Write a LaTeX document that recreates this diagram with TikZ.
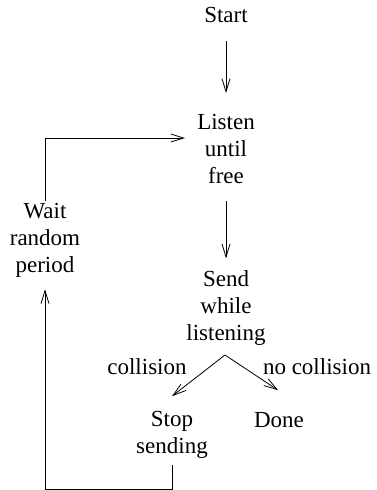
\documentclass[tikz,border=0pt]{standalone}
\usepackage{fontspec}
\setmainfont{Liberation Serif}
\usetikzlibrary{arrows.meta}
\begin{document}
\begin{tikzpicture}[x=1pt,y=-1pt,
  lbl/.style={align=center,font=\fontsize{23}{27}\selectfont,inner sep=0pt},
  arr/.style={line width=0.8pt,-{Straight Barb[length=13pt,width=8pt,line width=0.8pt]}},
  ln/.style={line width=0.8pt}]
\useasboundingbox (0,0) rectangle (376,490);
\node[lbl] (start) at (226,15) {Start};
\node[lbl] (listen) at (226,149) {Listen\\until\\free};
\node[lbl] (wait) at (45,240) {Wait\\random\\period};
\node[lbl] (send) at (226,308) {Send\\while\\listening};
\node[lbl] (stop) at (172,435) {Stop\\sending};
\node[lbl] (done) at (279,420) {Done};
\node[lbl] (col) at (147,367) {collision};
\node[lbl] (nocol) at (317,367) {no collision};
\coordinate (split) at (225,355);
\coordinate (bl) at (45,489);
\coordinate (br) at (172,489);
\coordinate (tl) at (45,138);
\draw[arr] (start.south) ++(0,18) -- ([yshift=21pt]listen.north);
\draw[arr] ([yshift=-17pt]listen.south) -- ([yshift=12pt]send.north);
\draw[arr] (split) -- ([yshift=15pt]stop.north);
\draw[arr] (split) -- ([yshift=22pt]done.north -| 278,0);
\draw[ln] ([yshift=2pt]wait.north) -- (tl);
\draw[arr] (tl) -- ([xshift=-12pt]tl -| listen.west);
\draw[ln] ([yshift=-6pt]stop.south) -- (br) -- (bl);
\draw[arr] (bl) -- ([yshift=-12pt]wait.south);
\end{tikzpicture}
\end{document}
